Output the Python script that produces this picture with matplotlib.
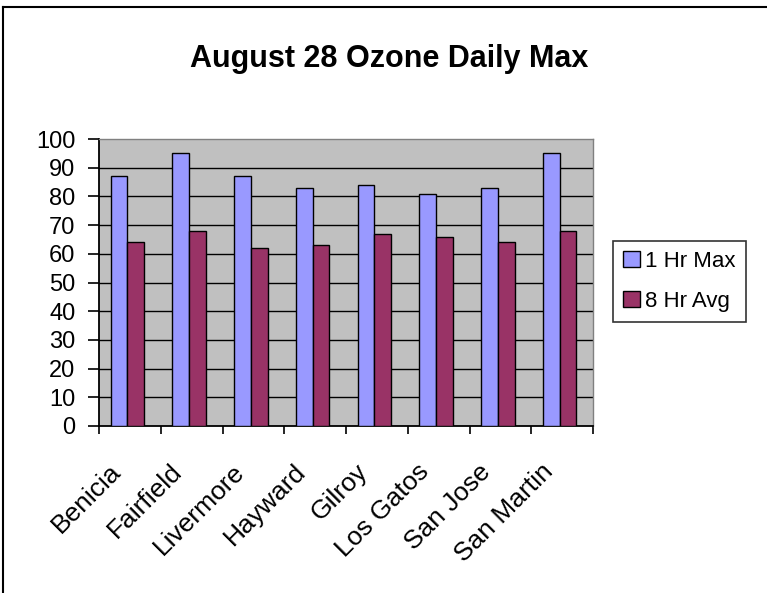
import numpy as np
import matplotlib
matplotlib.use("Agg")
import matplotlib.pyplot as plt
from matplotlib.lines import Line2D

# data
sites = ["Benicia", "Fairfield", "Livermore", "Hayward",
         "Gilroy", "Los Gatos", "San Jose", "San Martin"]
one_hr_max = [87, 95, 87, 83, 84, 81, 83, 95]
eight_hr_avg = [64, 68, 62, 63, 67, 66, 64, 68]
series_names = ["1 Hr Max", "8 Hr Avg"]

plt.rcParams['font.family'] = ['Liberation Sans', 'DejaVu Sans']

W, H = 767, 593
fig = plt.figure(figsize=(W / 100, H / 100), dpi=100)
fig.patch.set_facecolor("white")

# outer chart frame (only top and left are visible in the crop)
fig.add_artist(Line2D([3 / W, 3 / W], [0, 1 - 7 / H], color="black", lw=1.5))
fig.add_artist(Line2D([3 / W, 1], [1 - 7 / H, 1 - 7 / H], color="black", lw=1.5))

ax = fig.add_axes([99 / W, (H - 426) / H, 494 / W, 287 / H])
ax.set_facecolor("#C0C0C0")

x = np.arange(len(sites))
bw = 0.27
b1 = ax.bar(x + 0.19, one_hr_max, width=bw, align="edge", color="#9999FF",
            edgecolor="black", linewidth=1.0, zorder=3, label=series_names[0])
b2 = ax.bar(x + 0.19 + bw, eight_hr_avg, width=bw, align="edge", color="#993366",
            edgecolor="black", linewidth=1.0, zorder=3, label=series_names[1])

ax.set_xlim(0, len(sites))
ax.set_ylim(0, 100)
ax.set_yticks(np.arange(0, 101, 10))
for v in range(10, 100, 10):
    ax.axhline(v, color="black", lw=1.0, zorder=1)

ax.set_xticks(np.arange(0, len(sites) + 1))
ax.set_xticklabels([])
# category labels, slanted and ending just left of each category centre
ax.set_xticks(x + 0.15, minor=True)
ax.set_xticklabels(sites, minor=True, rotation=45, ha="right", va="top",
                   rotation_mode="anchor", fontsize=19)
ax.tick_params(axis="x", which="minor", length=0, pad=24)
ax.tick_params(axis="x", which="major", direction="out", length=6, width=1.2)
ax.tick_params(axis="y", direction="out", length=8, width=1.2, labelsize=17, pad=9)

for s in ["left", "bottom"]:
    ax.spines[s].set_color("black")
    ax.spines[s].set_linewidth(1.3)
for s in ["top", "right"]:
    ax.spines[s].set_color("#808080")
    ax.spines[s].set_linewidth(1.0)

fig.text(389 / W, 1 - 59 / H, "August 28 Ozone Daily Max", ha="center",
         va="center", fontsize=22, fontweight="bold")

leg = fig.legend(handles=[b1, b2], loc="upper left",
                 bbox_to_anchor=(613 / W, 1 - 241 / H), fontsize=16,
                 frameon=True, fancybox=False, handlelength=0.75,
                 handleheight=0.75, handletextpad=0.25, borderpad=0.45,
                 labelspacing=0.85, borderaxespad=0)
leg.get_frame().set_edgecolor("black")
leg.get_frame().set_linewidth(1.2)

fig.savefig("out.png", dpi=100)
